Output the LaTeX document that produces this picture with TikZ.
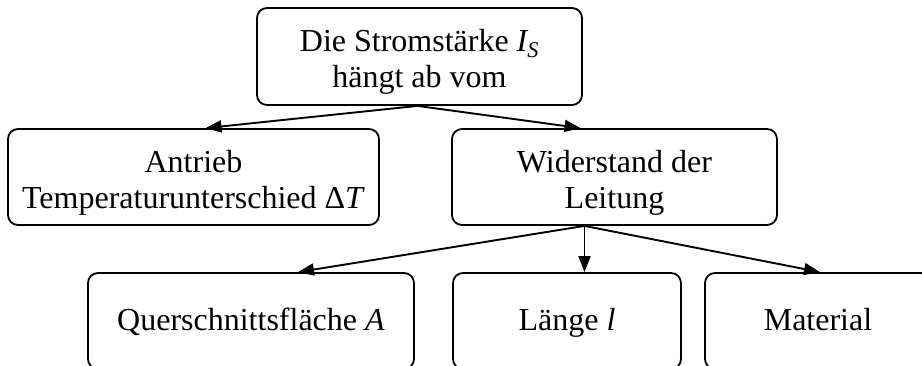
\documentclass[tikz,border=0pt]{standalone}
\usepackage{fontspec}
\setmainfont{Liberation Serif}
\usetikzlibrary{arrows.meta}

\tikzset{
  block/.style={draw, line width=1.8pt, rounded corners=10pt, inner sep=0pt,
    minimum height=96pt, align=center, font=\fontsize{32}{36}\selectfont},
  leaf/.style={block, text height=25pt, text depth=7pt},
  link/.style={-{Triangle[length=16pt,width=12pt]}, line width=1.9pt},
}
% pushes a two line text a little down in its box
\newcommand{\toplift}{\rule{0pt}{33pt}}

\begin{document}
\begin{tikzpicture}[x=1pt, y=-1pt]
  \path[use as bounding box, clip] (0,0) rectangle (922,365);

  \node (strom) at (419.5, 56.5) [block, minimum width=325pt, minimum height=97pt]
    {\toplift Die Stromstärke \textit{I\textsubscript{S}}\\hängt ab vom};
  \node (antrieb) at (193.5, 177) [block, minimum width=371pt]
    {\toplift Antrieb\\Temperaturunterschied Δ\textit{T}};
  \node (widerstand) at (614.5, 177) [block, minimum width=325pt]
    {\toplift Widerstand der\\Leitung};

  \node (querschnitt) at (251, 321) [leaf, minimum width=326pt] {Querschnittsfläche \textit{A}};
  \node (laenge) at (567, 321) [leaf, minimum width=228pt] {Länge \textit{l}};
  \node (material) at (818, 321) [leaf, minimum width=226pt] {Material};

  \draw[link] ([xshift=-2pt]strom.south) -- ([xshift=12pt]antrieb.north);
  \draw[link] ([xshift=-2pt]strom.south) -- ([xshift=-34pt]widerstand.north);

  \draw[link] ([xshift=-30pt]widerstand.south) -- ([xshift=47pt]querschnitt.north);
  \draw[link] ([xshift=-30pt]widerstand.south) -- ([xshift=17.5pt]laenge.north);
  \draw[link] ([xshift=-30pt]widerstand.south) -- ([xshift=2pt]material.north);
\end{tikzpicture}
\end{document}
